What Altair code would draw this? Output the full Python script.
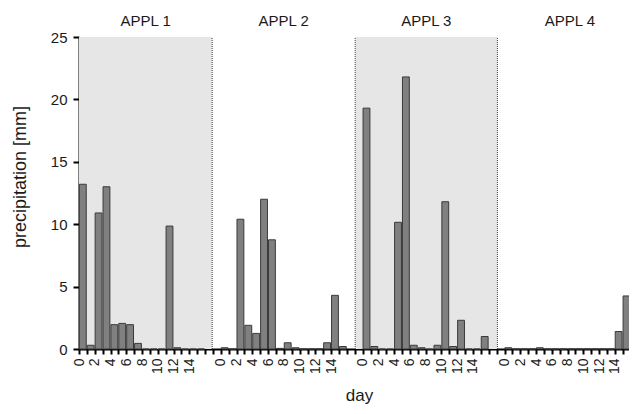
import altair as alt
import pandas as pd

# ---- data ----
panels = ["APPL 1", "APPL 2", "APPL 3", "APPL 4"]
days = list(range(16))
appl1 = [13.2, 0.3, 10.9, 13.0, 1.95, 2.05, 1.95, 0.45, 0, 0, 0, 9.85, 0.1, 0, 0, 0]
appl2 = [0.1, 0, 10.4, 1.9, 1.25, 12.0, 8.75, 0.05, 0.5, 0.1, 0, 0, 0, 0.5, 4.3, 0.2]
appl3 = [19.3, 0.2, 0, 0, 10.15, 21.8, 0.3, 0.1, 0, 0.3, 11.8, 0.2, 2.3, 0, 0, 1.0]
appl4 = [0.1, 0, 0, 0, 0.1, 0, 0, 0, 0, 0, 0, 0, 0, 0, 1.4, 4.25]
series = [appl1, appl2, appl3, appl4]

panel_start = [0, 16.9, 35.05, 53.1]
panel_end = [16.9, 35.05, 53.1, 71.5]
shaded = [True, False, True, False]
boundaries = [16.9, 35.05, 53.1]
y_ticks = [0, 5, 10, 15, 20, 25]
x_ticks = list(range(0, 70))
X_MAX = 69.8
Y_MAX = 25
FONT = "Liberation Sans"

bars = pd.DataFrame(
    [{"pidx": p, "panel": panels[p], "day": d, "precip": v}
     for p, vals in enumerate(series) for d, v in zip(days, vals)]
)
panel_df = pd.DataFrame({
    "panel": panels, "start": panel_start, "end": panel_end, "shaded": shaded,
})
panel_df["center"] = (panel_df["start"] + panel_df["end"]) / 2
panel_df["top"] = Y_MAX
panel_df["bottom"] = 0
bound_df = pd.DataFrame({"b": boundaries, "top": Y_MAX, "bottom": 0})

xscale = alt.Scale(domain=[0, X_MAX], nice=False, zero=False)
yscale = alt.Scale(domain=[0, Y_MAX], nice=False)

label_expr = ("(datum.value % 18) <= 14 && (datum.value % 18) % 2 == 0 "
              "? '' + (datum.value % 18) : ''")

x_axis = alt.Axis(values=x_ticks, labelExpr=label_expr, labelAngle=270,
                  labelFlush=False, labelOverlap=False, labelBound=False,
                  grid=False, title="day", tickSize=5, tickWidth=2,
                  domainWidth=2, domainColor="#000", tickColor="#000",
                  labelFontSize=14, labelPadding=4, titleFontSize=17,
                  titleBaseline="middle", titleAlign="center",
                  titleX=280, titleY=46)
y_axis = alt.Axis(values=y_ticks, grid=False, title="precipitation [mm]",
                  tickSize=6, tickWidth=2, domainWidth=2, domainColor="#000",
                  tickColor="#000", labelFontSize=15, labelPadding=6,
                  titleFontSize=18, titleAngle=270, titleBaseline="middle",
                  titleAlign="center", titleX=-59, titleY=139.5)

bg = alt.Chart(panel_df).transform_filter("datum.shaded").mark_rect(
    color="#e6e6e6"
).encode(
    x=alt.X("start:Q", scale=xscale, axis=x_axis, title="day"),
    x2="end:Q",
    y=alt.Y("bottom:Q", scale=yscale, axis=y_axis, title="precipitation [mm]"),
    y2="top:Q",
)

rules = alt.Chart(bound_df).mark_rule(
    color="#444", strokeDash=[1, 1], strokeWidth=1
).encode(
    x=alt.X("b:Q", scale=xscale, axis=x_axis, title="day"),
    y=alt.Y("bottom:Q", scale=yscale, axis=y_axis, title="precipitation [mm]"),
    y2="top:Q",
)

bar_layer = alt.Chart(bars).transform_calculate(
    x0="datum.pidx * 18 + datum.day + 0.05",
    x1="datum.pidx * 18 + datum.day + 0.92",
    base="0",
).mark_bar(fill="#808080", stroke="#3a3a3a", strokeWidth=1).encode(
    x=alt.X("x0:Q", scale=xscale, axis=x_axis, title="day"),
    x2="x1:Q",
    y=alt.Y("precip:Q", scale=yscale, axis=y_axis, title="precipitation [mm]"),
    y2="base:Q",
)

titles = alt.Chart(panel_df).mark_text(
    fontSize=15, font=FONT, color="#1a1a1a", baseline="middle", dy=-16
).encode(
    x=alt.X("center:Q", scale=xscale, axis=x_axis, title="day"),
    y=alt.Y("top:Q", scale=yscale, axis=y_axis, title="precipitation [mm]"),
    text="panel:N",
)

chart = alt.layer(bg, rules, bar_layer, titles).properties(
    width=550, height=312,
    autosize=alt.AutoSizeParams(type="none"),
    padding={"left": 71, "top": 29, "right": 0, "bottom": 57},
).configure_view(stroke=None).configure_axis(
    labelFont=FONT, titleFont=FONT, labelColor="#1a1a1a", titleColor="#1a1a1a",
    titleFontWeight="normal",
)

chart.save("out.html", embed_options={"renderer": "svg", "actions": False})
